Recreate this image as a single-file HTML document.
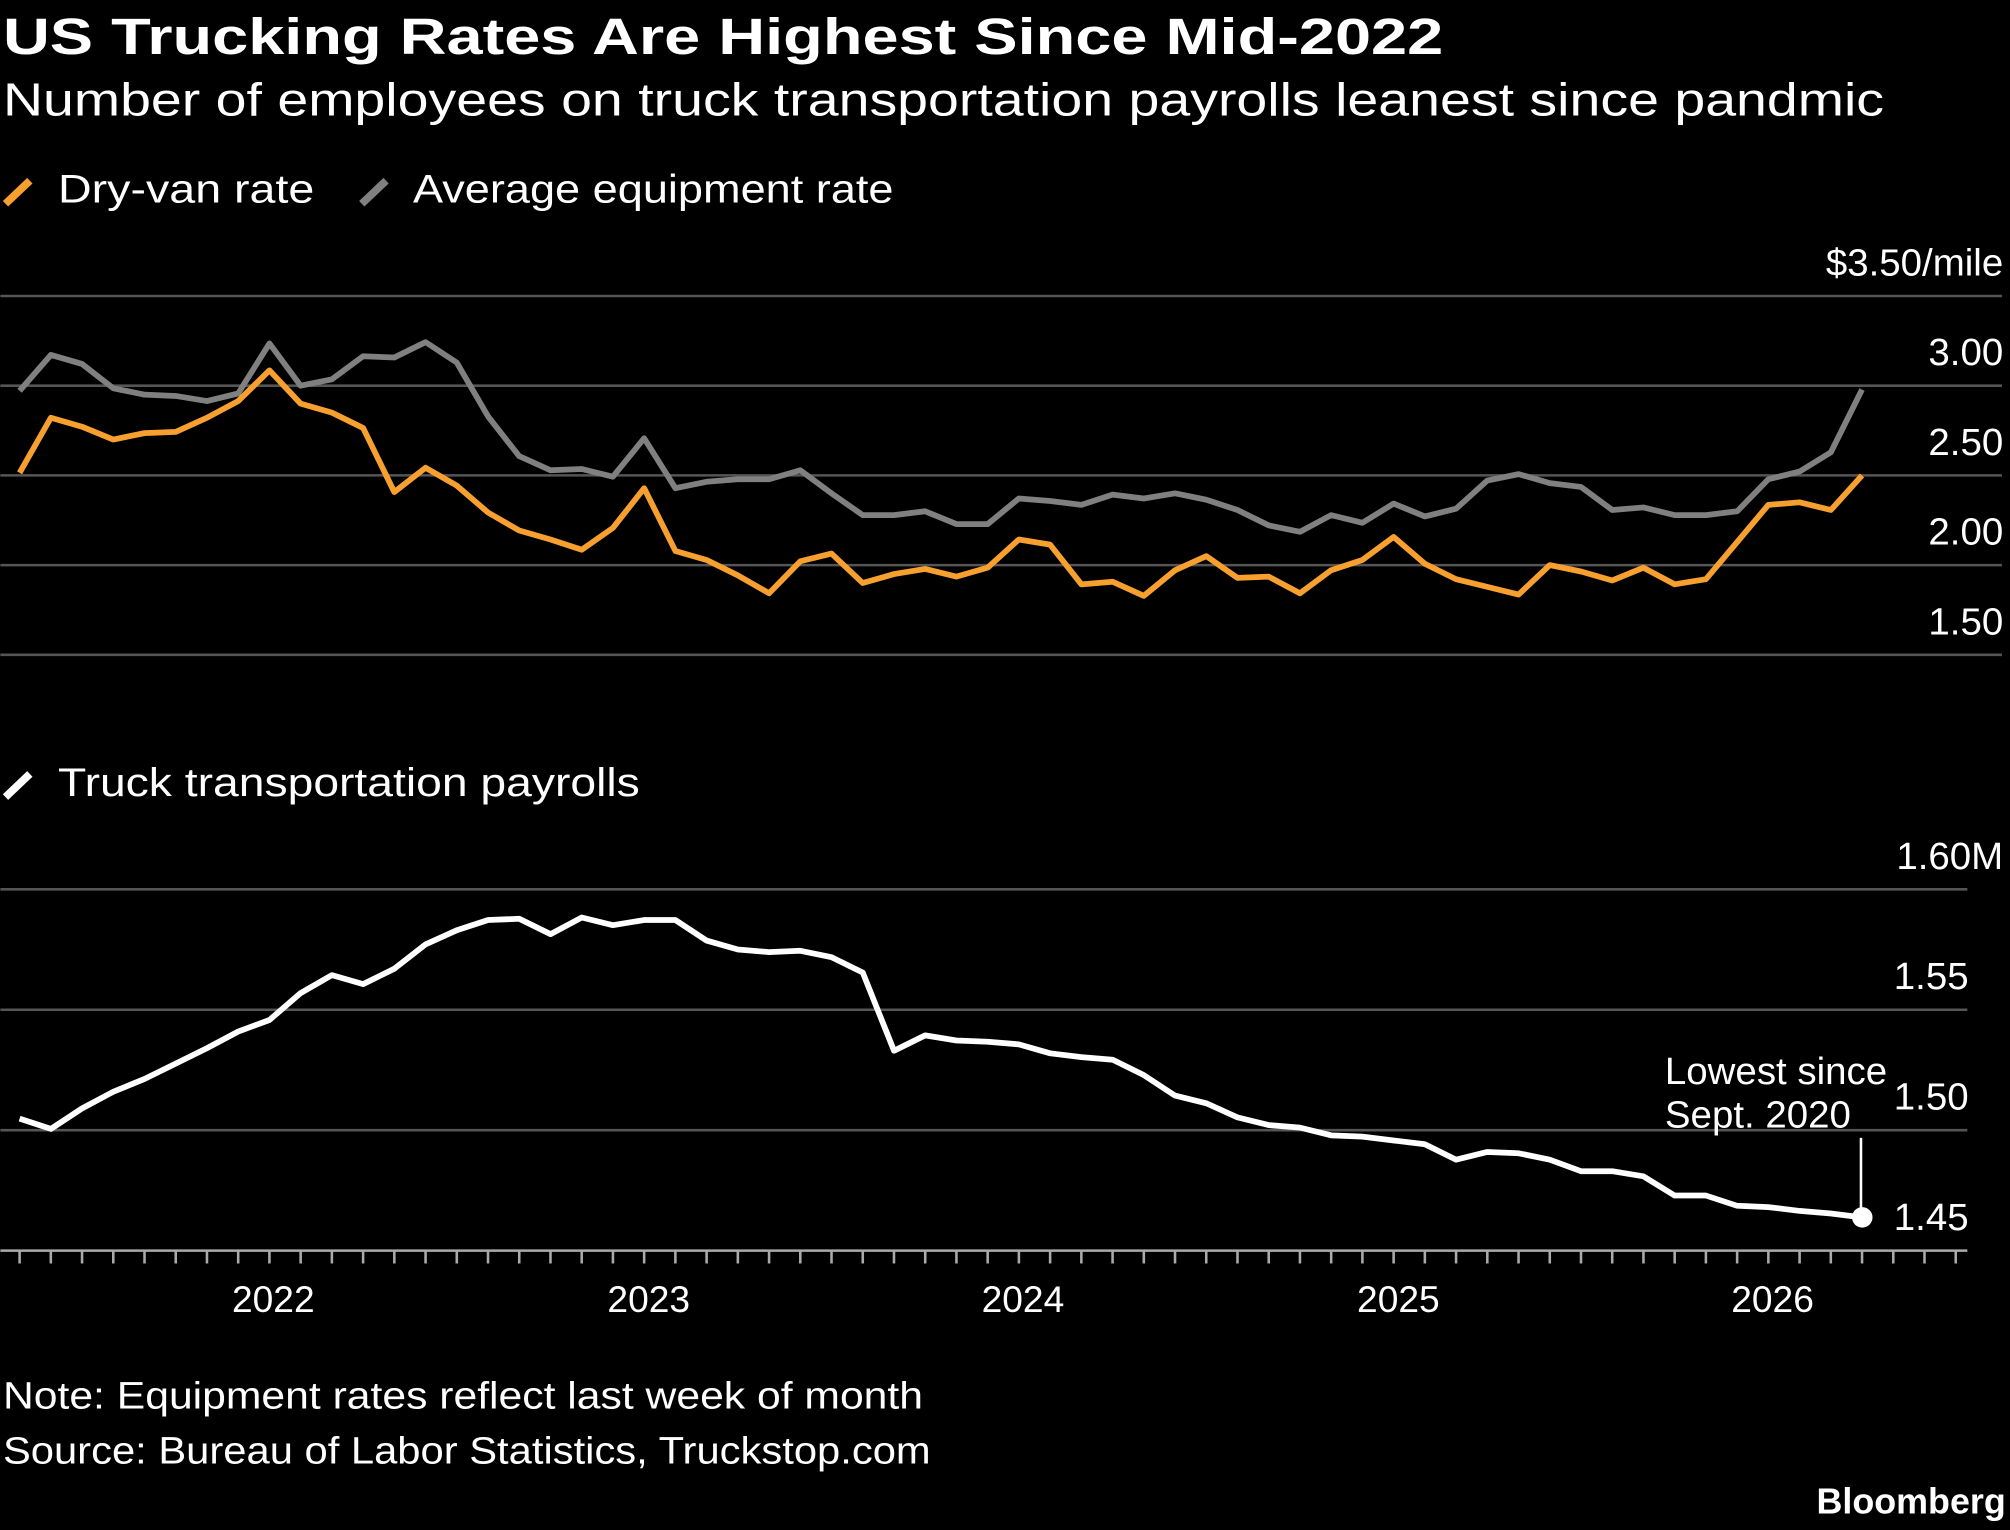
<!DOCTYPE html>
<html><head><meta charset="utf-8"><style>
html,body{margin:0;padding:0;background:#000;}
svg{display:block;}
text{font-family:"Liberation Sans",sans-serif;fill:#fff;}
</style></head><body>
<svg id="s" width="2010" height="1530" viewBox="0 0 1568 1194" xmlns="http://www.w3.org/2000/svg">
<rect width="1568" height="1194" fill="#000"/>
<text x="2" y="42" font-size="40" font-weight="bold" textLength="1124" lengthAdjust="spacingAndGlyphs">US Trucking Rates Are Highest Since Mid-2022</text>
<text x="2" y="90" font-size="36" textLength="1468" lengthAdjust="spacingAndGlyphs">Number of employees on truck transportation payrolls leanest since pandmic</text>
<line x1="4" y1="159" x2="23" y2="141" stroke="#f7a030" stroke-width="6"/>
<text x="45" y="158" font-size="31" textLength="200" lengthAdjust="spacingAndGlyphs">Dry-van rate</text>
<line x1="282" y1="159" x2="301" y2="141" stroke="#808080" stroke-width="6"/>
<text x="322" y="158" font-size="31" textLength="375" lengthAdjust="spacingAndGlyphs">Average equipment rate</text>
<g stroke="#555" stroke-width="2">
<line x1="0" y1="231" x2="1562" y2="231"/><line x1="0" y1="301" x2="1562" y2="301"/>
<line x1="0" y1="371" x2="1562" y2="371"/><line x1="0" y1="441" x2="1562" y2="441"/>
<line x1="0" y1="511" x2="1562" y2="511"/>
<line x1="0" y1="694" x2="1535" y2="694"/><line x1="0" y1="788" x2="1535" y2="788"/>
<line x1="0" y1="882" x2="1535" y2="882"/>
</g>
<g font-size="30" text-anchor="end">
<text x="1563" y="215">$3.50/mile</text><text x="1563" y="285">3.00</text>
<text x="1563" y="355">2.50</text><text x="1563" y="425">2.00</text><text x="1563" y="495">1.50</text>
<text x="1563" y="678">1.60M</text><text x="1536" y="772">1.55</text>
<text x="1536" y="866">1.50</text><text x="1536" y="960">1.45</text>
</g>
<line x1="4" y1="622" x2="23" y2="604" stroke="#fff" stroke-width="6"/>
<text x="45" y="621" font-size="31" textLength="454" lengthAdjust="spacingAndGlyphs">Truck transportation payrolls</text>
<line x1="0" y1="976" x2="1535" y2="976" stroke="#aaa" stroke-width="2"/>
<g id="ticks" stroke="#aaa" stroke-width="2"></g>
<g font-size="29" text-anchor="middle">
<text x="213" y="1024">2022</text><text x="506" y="1024">2023</text><text x="798" y="1024">2024</text>
<text x="1091" y="1024">2025</text><text x="1383" y="1024">2026</text>
</g>
<polyline id="gray" fill="none" stroke="#808080" stroke-width="4.5" stroke-linejoin="round"/>
<polyline id="orange" fill="none" stroke="#f7a030" stroke-width="4.5" stroke-linejoin="round"/>
<polyline id="white" fill="none" stroke="#fff" stroke-width="4.5" stroke-linejoin="round"/>
<line x1="1452" y1="888" x2="1452" y2="945" stroke="#fff" stroke-width="2"/>
<circle cx="1453" cy="950" r="8" fill="#fff"/>
<text x="1299" y="846" font-size="30">Lowest since</text>
<text x="1299" y="880" font-size="30">Sept. 2020</text>
<text x="2" y="1099" font-size="30" textLength="718" lengthAdjust="spacingAndGlyphs">Note: Equipment rates reflect last week of month</text>
<text x="2" y="1142" font-size="30" textLength="724" lengthAdjust="spacingAndGlyphs">Source: Bureau of Labor Statistics, Truckstop.com</text>
<text x="1565" y="1181" font-size="28" font-weight="bold" text-anchor="end">Bloomberg</text>
</svg>
<script>
var o=[369,326,333,343,338,337,326,313,289,315,322,334,384,365,379,400,414,421,429,412,381,430,437,449,463,438,432,455,448,444,450,443,421,425,456,454,465,445,434,451,450,463,445,437,419,440,452,458,464,441,446,453,443,456,452,423,394,392,398,371];
var g=[305,277,284,303,308,309,313,307,268,301,296,278,279,267,283,325,356,367,366,372,342,381,376,374,374,367,385,402,402,399,409,409,389,391,394,386,389,385,390,398,410,415,402,408,393,403,397,375,370,377,380,398,396,402,402,399,374,368,353,304];
var w=[873,881,865,852,842,830,818,805,796,775,761,768,756,737,726,718,717,729,716,722,718,718,734,741,743,742,747,759,820,808,812,813,815,822,825,827,839,855,861,872,878,880,886,887,890,893,905,899,900,905,914,914,918,933,933,941,942,945,947,950];
function pts(a){return a.map(function(y,i){return (15+24.37*i).toFixed(1)+","+y}).join(" ");}
document.getElementById("orange").setAttribute("points",pts(o));
document.getElementById("gray").setAttribute("points",pts(g));
document.getElementById("white").setAttribute("points",pts(w));
var t=document.getElementById("ticks"),h="";
for(var i=0;i<63;i++){var x=15+24.37*i;if(x>1535)break;h+='<line x1="'+x+'" y1="976" x2="'+x+'" y2="986"/>';}
t.innerHTML=h;
</script>
</body></html>
